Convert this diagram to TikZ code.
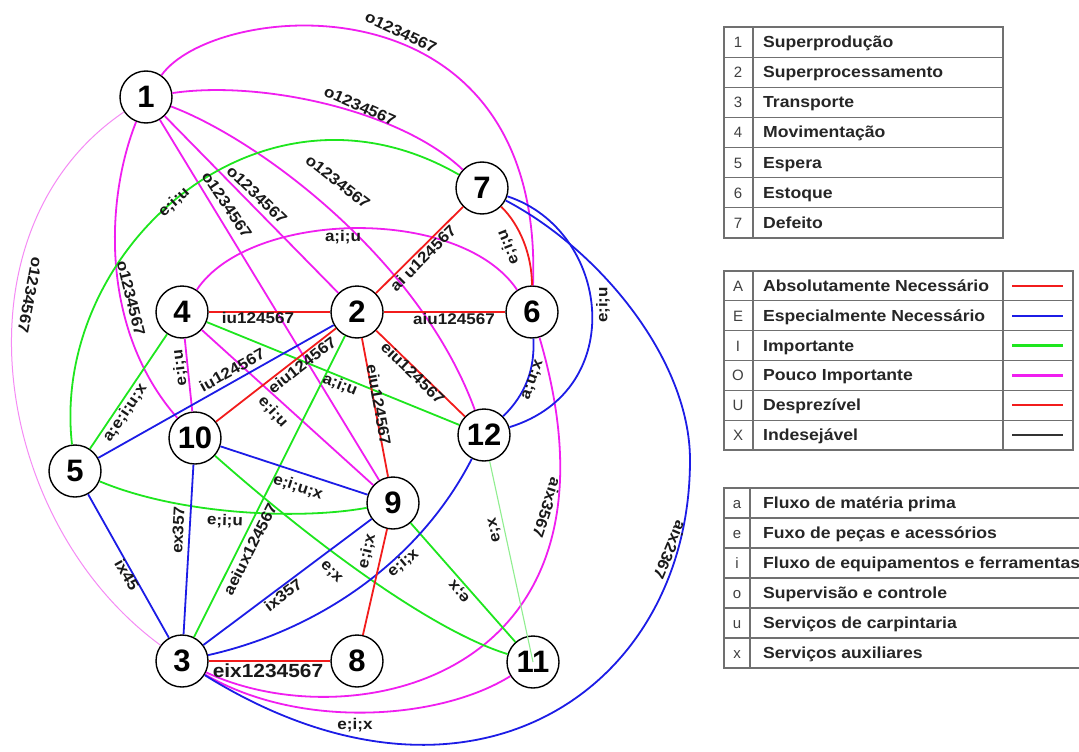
\documentclass[tikz,border=0pt]{standalone}
\usepackage{fontspec}
\setmainfont{Liberation Sans}
\newfontfamily\lfont[FakeStretch=1.1]{Liberation Sans}
\definecolor{cR}{HTML}{F21C1C}
\definecolor{cB}{HTML}{1C1CE6}
\definecolor{cG}{HTML}{1EE61E}
\definecolor{cM}{HTML}{F01EF0}
\definecolor{cV}{HTML}{F58AF5}
\definecolor{cLG}{HTML}{90EE90}
\definecolor{cT}{HTML}{707070}
\definecolor{cN}{HTML}{404040}
\definecolor{cX}{HTML}{333333}
\begin{document}
\begin{tikzpicture}[x=1pt,y=-1pt,
  wnode/.style={circle, draw=black, line width=1.4pt, fill=white, minimum size=52pt, inner sep=0pt, font=\bfseries\fontsize{31}{31}\selectfont},
  eR/.style={draw=cR, line width=1.8pt},
  eB/.style={draw=cB, line width=1.8pt},
  eG/.style={draw=cG, line width=1.8pt},
  eM/.style={draw=cM, line width=1.8pt},
  eV/.style={draw=cV, line width=1pt},
  eLG/.style={draw=cLG, line width=1.1pt},
  lbl/.style={font=\lfont\bfseries\fontsize{15.5}{16}\selectfont, inner sep=0pt, text=black!90},
  tb/.style={draw=cT, line width=1.1pt},
  ttxt/.style={font=\lfont\bfseries\fontsize{16}{16}\selectfont, anchor=base west, inner sep=0pt, text=black!85},
  tnum/.style={font=\fontsize{15}{15}\selectfont, text=cN, anchor=base, inner sep=0pt}
]
\useasboundingbox (0,0) rectangle (1079,752);
\fill[white] (0,0) rectangle (1079,752);

% nodes
\node[wnode] (n1) at (146,97) {1};
\node[wnode] (n2) at (357,312) {2};
\node[wnode] (n3) at (182,661) {3};
\node[wnode] (n4) at (182,312) {4};
\node[wnode] (n5) at (75,471) {5};
\node[wnode] (n6) at (532,312) {6};
\node[wnode] (n7) at (482,188) {7};
\node[wnode] (n8) at (357,661) {8};
\node[wnode] (n9) at (393,503) {9};
\node[wnode] (n10) at (195,438) {10};
\node[wnode] (n11) at (533,662) {11};
\node[wnode] (n12) at (484,435) {12};
\coordinate (c37) at (690,460);

% magenta (O)
\draw[eM] (n1) .. controls (215,0) and (545,-30) .. (n6);
\draw[eM] (n1) .. controls (260,80) and (400,110) .. (n7);
\draw[eM] (n1) .. controls (260,140) and (420,260) .. (n12);
\draw[eM] (n1) -- (n2);
\draw[eM] (n1) -- (n9);
\draw[eM] (n1) .. controls (105,200) and (100,330) .. (n10);
\draw[eV] (n1) .. controls (-50,230) and (-10,520) .. (n3);
\draw[eM] (n4) .. controls (250,210) and (460,205) .. (n6);
\draw[eM] (n4) -- (n9);
\draw[eM] (n4) -- (n10);
\draw[eM] (n3) .. controls (350,740) and (640,680) .. (n6);
\draw[eM] (n3) .. controls (300,730) and (440,720) .. (n11);

% green (I)
\draw[eG] (n5) .. controls (50,250) and (260,60) .. (n7);
\draw[eG] (n4) -- (n5);
\draw[eG] (n2) -- (n3);
\draw[eG] (n4) -- (n12);
\draw[eG] (n5) .. controls (180,515) and (300,520) .. (n9);
\draw[eG] (n10) .. controls (310,540) and (430,630) .. (n11);
\draw[eG] (n9) -- (n11);

% blue (E)
\draw[eB] (n2) -- (n5);
\draw[eB] (n5) -- (n3);
\draw[eB] (n10) -- (n3);
\draw[eB] (n10) -- (n9);
\draw[eB] (n9) -- (n3);
\draw[eB] (n12) .. controls (420,560) and (320,630) .. (n3);
\draw[eB] (n7) .. controls (610,230) and (630,390) .. (n12);
\draw[eB] (n6) .. controls (535,370) and (525,395) .. (n12);
\draw[eB] (n3) .. controls (470,840) and (690,690) .. (c37) .. controls (690,360) and (600,250) .. (n7);

% red (A/U)
\draw[eR] (n4) -- (n2);
\draw[eR] (n2) -- (n6);
\draw[eR] (n2) -- (n7);
\draw[eR] (n7) .. controls (520,225) and (532,255) .. (n6);
\draw[eR] (n2) -- (n10);
\draw[eR] (n2) -- (n12);
\draw[eR] (n2) -- (n9);
\draw[eR] (n9) -- (n8);
\draw[eR, line width=2.6pt] (n3) -- (n8);

% light green into 11
\draw[eLG] (n12) -- (n11.center);

% labels
\node[lbl, rotate=-25] (l16) at (401,32) {o1234567};
\node[lbl, rotate=-24] (l17) at (360,106) {o1234567};
\node[lbl, rotate=-38] (l112) at (338,182) {o1234567};
\node[lbl, rotate=-44] (l12) at (257,195) {o1234567};
\node[lbl, rotate=-56] (l19) at (227,205) {o1234567};
\node[lbl, rotate=-76] (l110) at (131,298) {o1234567};
\node[lbl, rotate=-101] (l13) at (30,295) {o1234567};
\node[lbl, rotate=43] (l57) at (174,202) {e;i;u};
\node[lbl] (l46) at (343,237) {a;i;u};
\node[lbl, rotate=45] (l27) at (423,258) {ai u124567};
\node[lbl, rotate=112] (l76) at (508,247) {e;i;u};
\node[lbl] (l42) at (258,318) {iu124567};
\node[lbl] (l26) at (454,319) {aiu124567};
\node[lbl, rotate=29] (l25) at (232,370) {iu124567};
\node[lbl, rotate=38] (l210) at (302,365) {eiu124567};
\node[lbl, rotate=97] (l410) at (180,368) {e;i;u};
\node[lbl, rotate=56] (l45) at (125,413) {a;e;i;u;x};
\node[lbl, rotate=-22] (l412) at (340,385) {a;i;u};
\node[lbl, rotate=-47] (l49) at (273,412) {e;i;u};
\node[lbl, rotate=-44] (l212) at (413,373) {eiu124567};
\node[lbl, rotate=-80] (l29) at (379,405) {eiu124567};
\node[lbl, rotate=70] (l612) at (533,380) {a;u;x};
\node[lbl, rotate=90] (l712) at (603,305) {e;i;u};
\node[lbl, rotate=-108] (l63) at (547,508) {aix3567};
\node[lbl, rotate=-113] (l37) at (670,550) {aix2367};
\node[lbl, rotate=87] (l103) at (178,530) {ex357};
\node[lbl, rotate=-60] (l53) at (127,575) {ix45};
\node[lbl, rotate=-18] (l109) at (298,487) {e;i;u;x};
\node[lbl, rotate=-2] (l59) at (225,521) {e;i;u};
\node[lbl, rotate=63] (l23) at (250,549) {aeiux124567};
\node[lbl, rotate=-45] (l1011) at (331,572) {e;x};
\node[lbl, rotate=37] (l93) at (283,595) {ix357};
\node[lbl, rotate=40] (l123) at (403,563) {e;i;x};
\node[lbl, rotate=77] (l98) at (367,551) {e;i;x};
\node[lbl, rotate=130] (l911) at (460,591) {e;x};
\node[lbl, rotate=102] (l1211) at (495,530) {e;x};
\node[lbl, font=\lfont\bfseries\fontsize{19}{19}\selectfont] (l38) at (268,671) {eix1234567};
\node[lbl] (l311) at (355,725) {e;i;x};

% table 1
\draw[tb] (724,27) rectangle (1003,238);
\draw[tb] (753,27) -- (753,238);
\foreach \k in {1,...,6} \draw[tb] (724,27+30.14*\k) -- (1003,27+30.14*\k);
\foreach \k/\t [evaluate=\k as \yy using 27+30.14*(\k-0.5)+5.5] in
  {1/Superprodução,2/Superprocessamento,3/Transporte,4/Movimentação,5/Espera,6/Estoque,7/Defeito}
  {\node[tnum] (ta\k) at (738,\yy) {\k};
   \node[ttxt] (tb\k) at (763,\yy) {\t};}

% table 2
\draw[tb] (724,271) rectangle (1073,450);
\draw[tb] (753,271) -- (753,450);
\draw[tb] (1003,271) -- (1003,450);
\foreach \k in {1,...,5} \draw[tb] (724,271+29.83*\k) -- (1073,271+29.83*\k);
\foreach \k/\l/\t/\c [evaluate=\k as \yy using 271+29.83*(\k-0.5)] in
  {1/A/Absolutamente Necessário/cR,2/E/Especialmente Necessário/cB,3/I/Importante/cG,4/O/Pouco Importante/cM,5/U/Desprezível/cR,6/X/Indesejável/cX}
  {\node[tnum] (tc\k) at (738,\yy+5.5) {\l};
   \node[ttxt] (td\k) at (763,\yy+5.5) {\t};
   \coordinate (te\k) at (1012,\yy);
   \coordinate (tf\k) at (1063,\yy);
   \draw[draw=\c, line width=2.4pt] (te\k) -- (tf\k);}

% table 3
\begin{scope}
\clip (0,0) rectangle (1079,752);
\draw[tb] (1090,488) -- (724,488) -- (724,668) -- (1090,668);
\draw[tb] (750,488) -- (750,668);
\foreach \k in {1,...,5} \draw[tb] (724,488+30*\k) -- (1090,488+30*\k);
\foreach \k/\l/\t [evaluate=\k as \yy using 488+30*(\k-0.5)+5.5] in
  {1/a/Fluxo de matéria prima,2/e/Fuxo de peças e acessórios,3/i/Fluxo de equipamentos e ferramentas,4/o/Supervisão e controle,5/u/Serviços de carpintaria,6/x/Serviços auxiliares}
  {\node[tnum] (tg\k) at (737,\yy) {\l};
   \node[ttxt] (th\k) at (763,\yy) {\t};}
\end{scope}
\end{tikzpicture}
\end{document}
